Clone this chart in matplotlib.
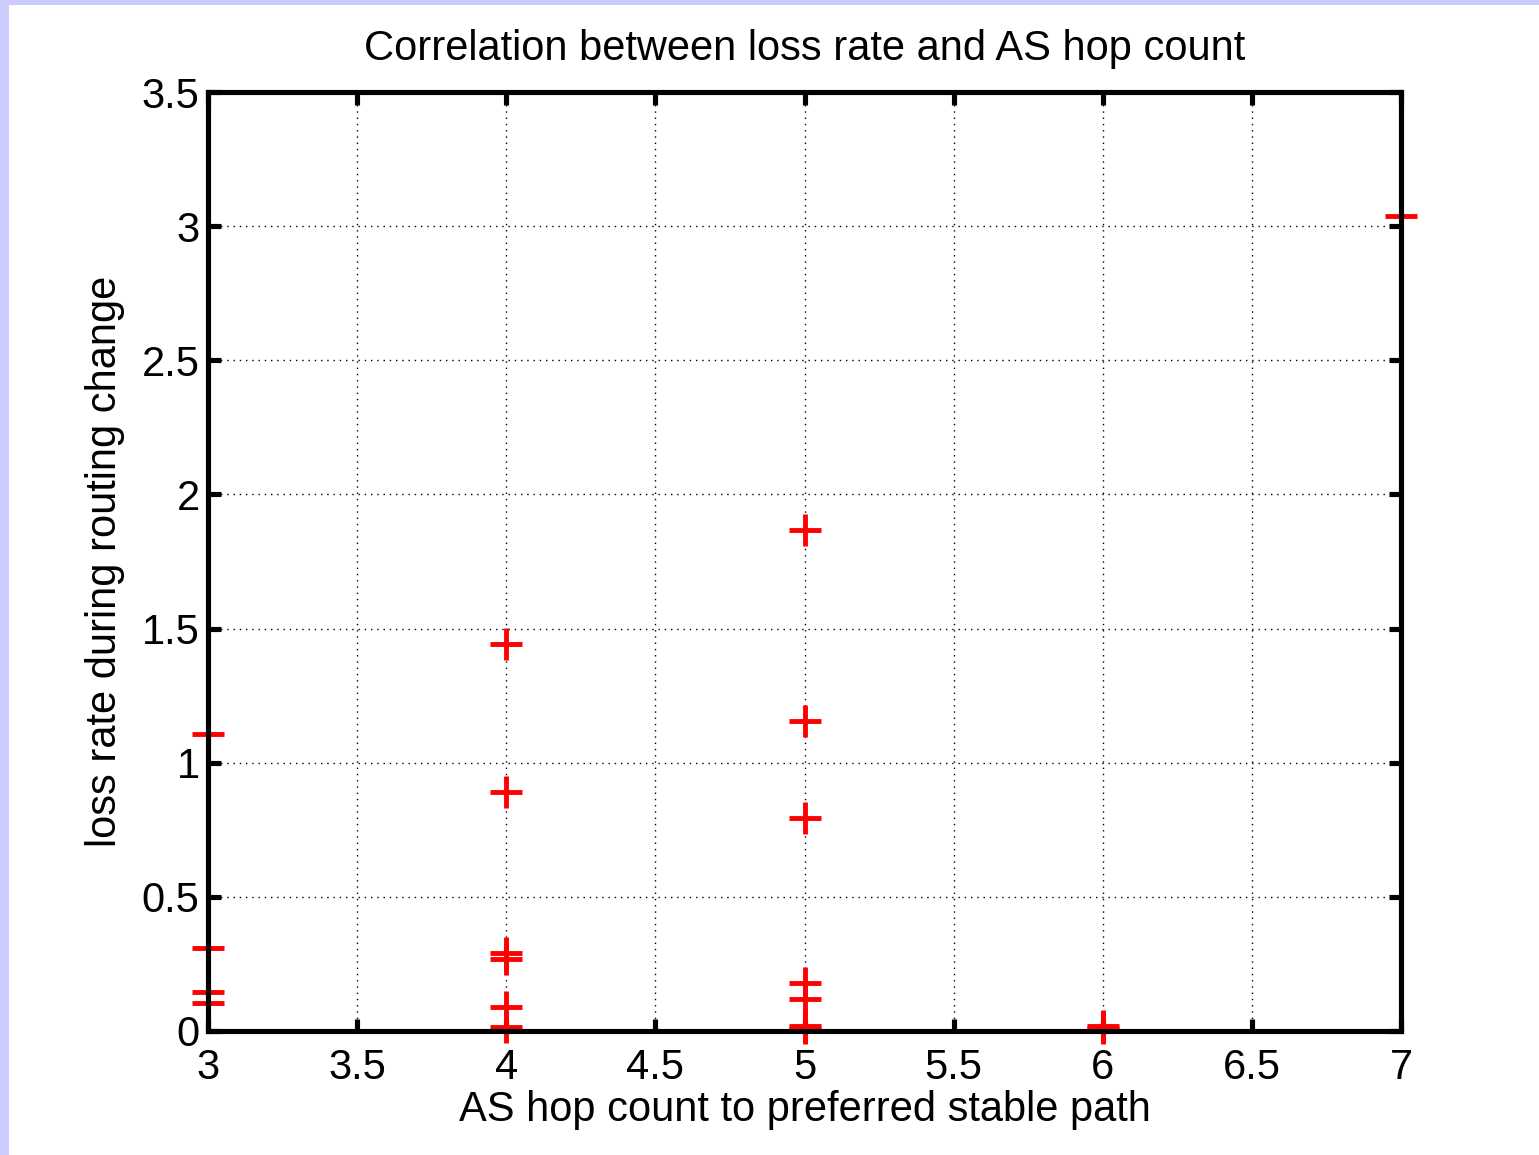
import numpy as np
import matplotlib
matplotlib.use("Agg")
import matplotlib.pyplot as plt
from matplotlib.patches import Rectangle

plt.rcParams["font.family"] = ["Liberation Sans", "DejaVu Sans"]

# AS hop count and loss rate
hops = [3, 3, 3, 3,
        4, 4, 4, 4, 4, 4,
        5, 5, 5, 5, 5, 5, 5,
        6, 6,
        7]
loss = [1.108, 0.310, 0.146, 0.104,
        1.442, 0.889, 0.290, 0.270, 0.089, 0.015,
        1.867, 1.154, 0.794, 0.179, 0.118, 0.020, 0.010,
        0.020, 0.010,
        3.038]

xticks = [3, 3.5, 4, 4.5, 5, 5.5, 6, 6.5, 7]
yticks = [0, 0.5, 1, 1.5, 2, 2.5, 3, 3.5]
xtick_labels = ["3", "3.5", "4", "4.5", "5", "5.5", "6", "6.5", "7"]
ytick_labels = ["0", "0.5", "1", "1.5", "2", "2.5", "3", "3.5"]

fig = plt.figure(figsize=(15.39, 11.55), dpi=100, facecolor="white")
# lavender frame on top and left like the screenshot
fig.patches.append(Rectangle((0, 0), 9 / 1539, 1, transform=fig.transFigure,
                             facecolor="#CCCCFF", edgecolor="none"))
fig.patches.append(Rectangle((0, 1 - 5 / 1155), 1, 5 / 1155, transform=fig.transFigure,
                             facecolor="#CCCCFF", edgecolor="none"))

ax = fig.add_axes([208 / 1539, 1 - 1031 / 1155, (1401 - 208) / 1539, (1031 - 92) / 1155])

ax.plot(hops, loss, linestyle="none", marker="+", color="#FF0000",
        markersize=23, markeredgewidth=3.5, clip_on=False)

ax.set_xlim(3, 7)
ax.set_ylim(0, 3.5)
ax.set_xticks(xticks)
ax.set_xticklabels(xtick_labels)
ax.set_yticks(yticks)
ax.set_yticklabels(ytick_labels)

ax.grid(True, color="black", linestyle=(0, (1, 3.5)), linewidth=1.0)
for s in ax.spines.values():
    s.set_linewidth(3.7)
ax.tick_params(direction="in", length=9, width=3.7, top=True, right=True,
               labelsize=30)
ax.tick_params(axis="x", pad=12)
ax.tick_params(axis="y", pad=6)

ax.set_title("Correlation between loss rate and AS hop count", fontsize=30, pad=23)
ax.set_xlabel("AS hop count to preferred stable path", fontsize=30, labelpad=2)
ax.set_ylabel("loss rate during routing change", fontsize=30, labelpad=12)

fig.savefig("out.png", dpi=100, facecolor="white")
